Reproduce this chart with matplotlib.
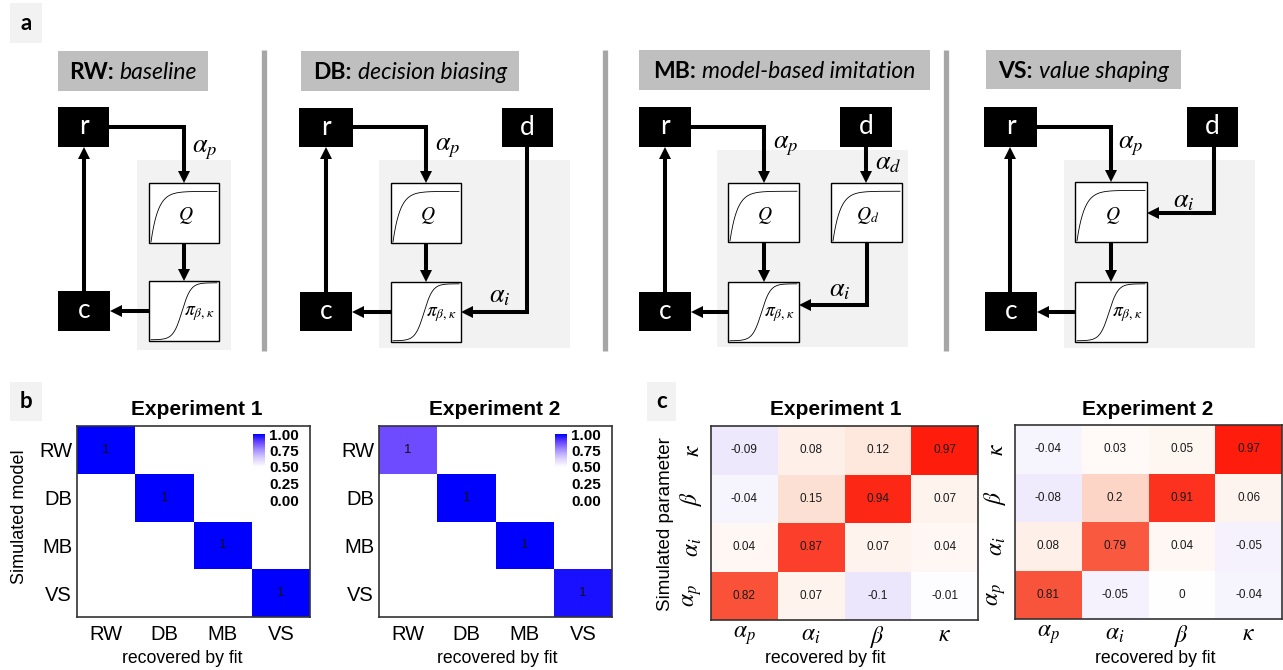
import numpy as np
import matplotlib
matplotlib.use("Agg")
import matplotlib.pyplot as plt
from matplotlib.patches import Rectangle, Polygon
from matplotlib.colors import LinearSegmentedColormap

W, H = 1283, 670

# model recovery: rows = simulated model, columns = model recovered by fit
models = ["RW", "DB", "MB", "VS"]
model_rec_exp1 = np.array([
    [1.00, 0.00, 0.00, 0.00],
    [0.00, 1.00, 0.00, 0.00],
    [0.00, 0.00, 1.00, 0.00],
    [0.00, 0.00, 0.00, 1.00],
])
model_rec_exp2 = np.array([
    [0.87, 0.00, 0.00, 0.00],
    [0.00, 1.00, 0.00, 0.00],
    [0.00, 0.00, 1.00, 0.00],
    [0.00, 0.00, 0.00, 0.97],
])

# parameter recovery (correlation): rows = simulated, columns = recovered
params = [r"$\alpha_p$", r"$\alpha_i$", r"$\beta$", r"$\kappa$"]
param_corr_exp1 = np.array([
    [0.82, 0.07, -0.10, -0.01],
    [0.04, 0.87, 0.07, 0.04],
    [-0.04, 0.15, 0.94, 0.07],
    [-0.09, 0.08, 0.12, 0.97],
])
param_corr_exp2 = np.array([
    [0.81, -0.05, 0.00, -0.04],
    [0.08, 0.79, 0.04, -0.05],
    [-0.08, 0.20, 0.91, 0.06],
    [-0.04, 0.03, 0.05, 0.97],
])

plt.rcParams["font.family"] = ["Liberation Sans", "DejaVu Sans"]
plt.rcParams["mathtext.fontset"] = "stix"
DIAG_FONT = "Lato"

blue_cmap = LinearSegmentedColormap.from_list("rec", [
    (0.0, "#ffffff"), (0.5, "#ffffff"), (0.625, "#dcd3ff"),
    (0.75, "#a996ff"), (0.875, "#6c48ff"), (1.0, "#0000ff")])
corr_cmap = LinearSegmentedColormap.from_list("corr", [
    (0.0, "#3700d7"), (0.5, "#ffffff"), (0.55, "#feede4"), (0.6, "#fdd5c6"),
    (0.75, "#fa967d"), (0.9, "#f8583e"), (0.95, "#fc3723"), (1.0, "#ff1405")])

fig = plt.figure(figsize=(W / 100, H / 100), dpi=100)
ax0 = fig.add_axes([0, 0, 1, 1])
ax0.set_xlim(0, W)
ax0.set_ylim(H, 0)
ax0.axis("off")


def px_rect(x0, y0, x1, y1):
    return [x0 / W, 1 - y1 / H, (x1 - x0) / W, (y1 - y0) / H]


def rect(x0, y0, x1, y1, **kw):
    ax0.add_patch(Rectangle((x0, y0), x1 - x0, y1 - y0, **kw))


def letter(x0, y0, x1, y1, s):
    rect(x0, y0, x1, y1, facecolor="#f2f2f2", edgecolor="none")
    ax0.text((x0 + x1) / 2, (y0 + y1) / 2, s, ha="center", va="center",
             fontsize=16, fontweight="bold", family=DIAG_FONT)


def panel_title(x0, y0, x1, y1, head, rest):
    rect(x0, y0, x1, y1, facecolor="#bfbfbf", edgecolor="none")
    base = (y0 + y1) / 2 + 8
    t1 = ax0.text(0, base, head, fontsize=16.5, fontweight="bold", va="baseline", family=DIAG_FONT)
    t2 = ax0.text(0, base, rest, fontsize=16.5, style="italic", va="baseline", family=DIAG_FONT)
    r = fig.canvas.get_renderer()
    w1 = t1.get_window_extent(r).width
    w2 = t2.get_window_extent(r).width
    gap = 6
    x = (x0 + x1) / 2 - (w1 + gap + w2) / 2
    t1.set_x(x)
    t2.set_x(x + w1 + gap)


def node(x0, y0, x1, y1, s):
    rect(x0, y0, x1, y1, facecolor="black", edgecolor="none", zorder=2)
    ax0.text((x0 + x1) / 2, (y0 + y1) / 2, s, color="white", ha="center", va="center",
             fontsize=19, family=DIAG_FONT, zorder=3)


def q_box(x0, y0, x1, y1, label):
    rect(x0, y0, x1, y1, facecolor="white", edgecolor="black", lw=1.0, zorder=2)
    t = np.linspace(0, 1, 150)
    yy = 0.02 + 0.84 * (1 - np.exp(-t / 0.11))
    ax0.plot(x0 + 2 + t * (x1 - x0 - 4), y1 - yy * (y1 - y0), color="black", lw=0.6, zorder=3)
    ax0.text(x0 + 0.52 * (x1 - x0), y0 + 0.55 * (y1 - y0), label, ha="center", va="center",
             fontsize=14, zorder=3)


def pi_box(x0, y0, x1, y1):
    rect(x0, y0, x1, y1, facecolor="white", edgecolor="black", lw=1.0, zorder=2)
    t = np.linspace(0, 1, 150)
    yy = 0.02 + 0.95 / (1 + np.exp(-(t - 0.47) * 15))
    ax0.plot(x0 + 2 + t * (x1 - x0 - 4), y1 - yy * (y1 - y0), color="black", lw=0.6, zorder=3)
    ax0.text(x0 + 0.72 * (x1 - x0), y0 + 0.55 * (y1 - y0), r"$\pi_{\beta,\kappa}$",
             ha="center", va="center", fontsize=14, zorder=3)


def arrow(pts, lw=2.9, hl=12, hw=12):
    pts = np.array(pts, dtype=float)
    d = pts[-1] - pts[-2]
    d /= np.linalg.norm(d)
    base = pts[-1] - d * hl
    line = np.vstack([pts[:-1], base])
    ax0.plot(line[:, 0], line[:, 1], color="black", lw=lw, solid_capstyle="butt",
             solid_joinstyle="miter", zorder=4)
    n = np.array([-d[1], d[0]])
    ax0.add_patch(Polygon([pts[-1], base + n * hw / 2, base - n * hw / 2], closed=True,
                          facecolor="black", edgecolor="none", zorder=4))


def rate(x, y, s):
    ax0.text(x, y, s, ha="center", va="center", fontsize=19, zorder=5)


# ---- a: model diagrams ----
letter(10, 3, 42, 43, "a")
for xd in (264, 605, 946):
    ax0.plot([xd, xd], [50, 351], color="#a6a6a6", lw=3.8, solid_capstyle="butt")

# RW
panel_title(58, 51, 208, 91, "RW:", "baseline")
rect(137, 160, 231, 350, facecolor="#f2f2f2", edgecolor="none", zorder=0.5)
node(58, 107, 109, 147, "r")
node(58, 291, 110, 331, "c")
q_box(149, 183, 219, 243, r"$Q$")
pi_box(149, 281, 219, 341)
arrow([(109, 127), (184, 127), (184, 183)])
rate(205, 150, r"$\alpha_p$")
arrow([(184, 243), (184, 281)])
arrow([(149, 311), (110, 311)])
arrow([(84, 291), (84, 147)])

# DB
panel_title(301, 51, 519, 91, "DB:", "decision biasing")
rect(379, 160, 570, 348, facecolor="#f2f2f2", edgecolor="none", zorder=0.5)
node(299, 108, 353, 147, "r")
node(502, 108, 553, 147, "d")
node(300, 292, 352, 331, "c")
q_box(391, 183, 461, 243, r"$Q$")
pi_box(391, 282, 461, 342)
arrow([(353, 127), (426, 127), (426, 183)])
rate(448, 148, r"$\alpha_p$")
arrow([(426, 243), (426, 282)])
arrow([(391, 312), (352, 312)])
arrow([(326, 292), (326, 147)])
arrow([(527, 147), (527, 312), (461, 312)])
rate(500, 296, r"$\alpha_i$")

# MB
panel_title(639, 50, 930, 90, "MB:", "model-based imitation")
rect(717, 150, 908, 347, facecolor="#f2f2f2", edgecolor="none", zorder=0.5)
node(639, 107, 691, 147, "r")
node(840, 107, 892, 147, "d")
node(639, 292, 691, 331, "c")
q_box(728, 183, 799, 242, r"$Q$")
q_box(831, 183, 902, 242, r"$Q_d$")
pi_box(728, 282, 799, 342)
arrow([(691, 127), (764, 127), (764, 183)])
rate(786, 146, r"$\alpha_p$")
arrow([(866, 147), (866, 183)])
rate(888, 163, r"$\alpha_d$")
arrow([(764, 242), (764, 282)])
arrow([(867, 242), (867, 305), (799, 305)])
rate(840, 290, r"$\alpha_i$")
arrow([(728, 312), (691, 312)])
arrow([(665, 292), (665, 147)])

# VS
panel_title(986, 50, 1181, 89, "VS:", "value shaping")
rect(1064, 160, 1255, 348, facecolor="#f2f2f2", edgecolor="none", zorder=0.5)
node(984, 107, 1037, 147, "r")
node(1187, 107, 1238, 147, "d")
node(985, 292, 1037, 331, "c")
q_box(1075, 182, 1147, 242, r"$Q$")
pi_box(1075, 282, 1147, 342)
arrow([(1037, 127), (1111, 127), (1111, 182)])
rate(1131, 146, r"$\alpha_p$")
arrow([(1214, 147), (1214, 213), (1147, 213)])
rate(1184, 201, r"$\alpha_i$")
arrow([(1111, 242), (1111, 282)])
arrow([(1075, 312), (1037, 312)])
arrow([(1010, 292), (1010, 147)])


# ---- b: model recovery ----
def model_matrix(box, data):
    ax = fig.add_axes(px_rect(*box))
    mesh = ax.pcolormesh(np.arange(5), np.arange(5), data, cmap=blue_cmap, vmin=0, vmax=1)
    ax.set_xlim(0, 4)
    ax.set_ylim(4, 0)
    ax.set_xticks(np.arange(4) + 0.5, models, fontsize=14.5)
    ax.set_yticks(np.arange(4) + 0.5, models, fontsize=14.5)
    ax.tick_params(axis="x", length=0, pad=5.5)
    ax.tick_params(axis="y", length=0, pad=3.5)
    for sp in ax.spines.values():
        sp.set_color("#333333")
        sp.set_linewidth(1.2)
    for i in range(4):
        for j in range(4):
            if data[i, j] > 0:
                ax.text(j + 0.5, i + 0.5, f"{data[i, j]:.0f}", ha="center", va="center",
                        fontsize=9.5, color="#111111")
    x1 = box[2]
    cax = fig.add_axes(px_rect(x1 - 57, 434, x1 - 45, 500))
    cb = fig.colorbar(mesh, cax=cax, ticks=[0, 0.25, 0.5, 0.75, 1])
    cb.outline.set_visible(False)
    cax.tick_params(length=0, pad=3)
    cax.set_yticklabels(["0.00", "0.25", "0.50", "0.75", "1.00"], fontsize=11, fontweight="bold")
    return ax


letter(10, 382, 42, 421, "b")
model_matrix((77, 426, 310, 617), model_rec_exp1)
model_matrix((379, 426, 612, 617), model_rec_exp2)
ax0.text(197, 415, "Experiment 1", ha="center", va="baseline", fontsize=15, fontweight="bold")
ax0.text(495, 415, "Experiment 2", ha="center", va="baseline", fontsize=15, fontweight="bold")
ax0.text(182, 663, "recovered by fit", ha="center", va="baseline", fontsize=12.7)
ax0.text(497, 663, "recovered by fit", ha="center", va="baseline", fontsize=12.7)
ax0.text(20, 517, "Simulated model", ha="center", va="center", rotation=90, fontsize=13)


# ---- c: parameter recovery ----
def corr_matrix(box, data):
    ax = fig.add_axes(px_rect(*box))
    ax.pcolormesh(np.arange(5), np.arange(5), data, cmap=corr_cmap, vmin=-1, vmax=1)
    ax.set_xlim(0, 4)
    ax.set_ylim(0, 4)
    ax.set_xticks(np.arange(4) + 0.5, params, fontsize=17)
    ax.set_yticks(np.arange(4) + 0.5, params, fontsize=17, rotation=90, va="center")
    ax.tick_params(axis="x", length=0, pad=3)
    ax.tick_params(axis="y", length=0, pad=5)
    for sp in ax.spines.values():
        sp.set_color("#333333")
        sp.set_linewidth(1.2)
    for i in range(4):
        for j in range(4):
            ax.text(j + 0.5, i + 0.5, f"{data[i, j]:g}", ha="center", va="center",
                    fontsize=8.5, color="#1a1a1a")
    return ax


letter(647, 382, 676, 421, "c")
corr_matrix((711, 426, 978, 620), param_corr_exp1)
corr_matrix((1015, 425, 1282, 619), param_corr_exp2)
ax0.text(836, 415, "Experiment 1", ha="center", va="baseline", fontsize=15, fontweight="bold")
ax0.text(1148, 415, "Experiment 2", ha="center", va="baseline", fontsize=15, fontweight="bold")
ax0.text(825, 663, "recovered by fit", ha="center", va="baseline", fontsize=12.7)
ax0.text(1155, 663, "recovered by fit", ha="center", va="baseline", fontsize=12.7)
ax0.text(665, 524, "Simulated parameter", ha="center", va="center", rotation=90, fontsize=13.5)

fig.savefig("out.png", dpi=100)
